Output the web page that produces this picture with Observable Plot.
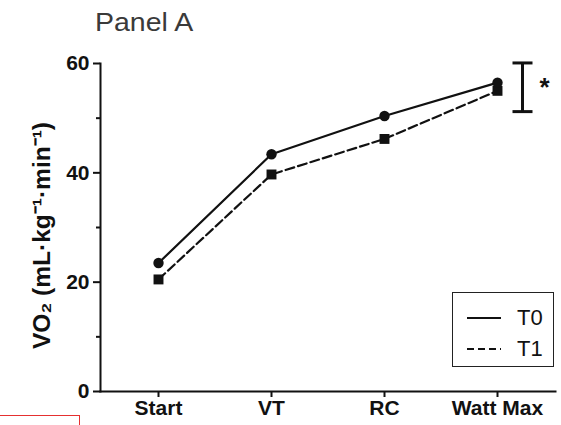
<!DOCTYPE html>
<html>
<head>
<meta charset="utf-8">
<script src="https://cdn.jsdelivr.net/npm/d3@7"></script>
<script src="https://cdn.jsdelivr.net/npm/@observablehq/plot@0.6"></script>
<style>
  html, body { margin: 0; padding: 0; background: #fff; }
  #wrap { position: relative; width: 561px; height: 425px; overflow: hidden; font-family: "Liberation Sans", Arial, sans-serif; }
  #title { position: absolute; left: 95px; top: 8px; font-size: 25px; color: #3a3a3a; white-space: nowrap; transform: scaleX(1.14); transform-origin: left top; }
  #legend { position: absolute; left: 452px; top: 292px; width: 102px; height: 75px; border: 1.5px solid #222; box-sizing: border-box; }
  #legend .row { position: absolute; left: 0; height: 24px; width: 100%; }
  #legend svg { position: absolute; left: 13px; top: 0; }
  #legend span { position: absolute; left: 64px; top: 0; font-size: 22px; color: #111; line-height: 24px; }
  #redbox { position: absolute; left: -2px; top: 415px; width: 80px; height: 30px; border: 1px solid #e53030; }
  #chart { position: absolute; left: 0; top: 0; }
</style>
</head>
<body>
<div id="wrap">
  <div id="chart"></div>
  <div id="title">Panel A</div>
  <div id="legend"></div>
  <div id="redbox"></div>
</div>
<script>
const categories = ["Start", "VT", "RC", "Watt Max"];
const t0Values = [23.5, 43.4, 50.4, 56.5];
const t1Values = [20.5, 39.7, 46.2, 55.0];
const seriesNames = ["T0", "T1"];
const yMajorTicks = [0, 20, 40, 60];
const yMinorTicks = [10, 30, 50];
const sigRange = [51.2, 60.1];
const sigCategory = "Watt Max";
const sigLabel = "*";

const rows = [];
categories.forEach((c, i) => {
  rows.push({cat: c, v: t0Values[i], s: seriesNames[0]});
  rows.push({cat: c, v: t1Values[i], s: seriesNames[1]});
});
const t0 = rows.filter(d => d.s === "T0");
const t1 = rows.filter(d => d.s === "T1");
const sig = [{cat: sigCategory, lo: sigRange[0], hi: sigRange[1], mid: (sigRange[0] + sigRange[1]) / 2}];
const caps = sigRange.map(v => ({cat: sigCategory, v}));

const font = "Liberation Sans, Arial, sans-serif";
const plot = Plot.plot({
  width: 561,
  height: 425,
  marginLeft: 100,
  marginRight: 6,
  marginTop: 63,
  marginBottom: 34,
  style: {fontFamily: font, background: "transparent", color: "#111", overflow: "visible"},
  x: {type: "point", domain: categories, padding: 0.5},
  y: {domain: [0, 60]},
  marks: [
    Plot.axisY({ticks: yMajorTicks, tickSize: 7, tickPadding: 4, fontSize: 21, fontWeight: "bold", strokeWidth: 2, label: null}),
    Plot.axisY({ticks: yMinorTicks, tickSize: 4, text: null, strokeWidth: 2, label: null}),
    Plot.axisX({tickSize: 6, tickPadding: 3, fontSize: 21, fontWeight: "bold", strokeWidth: 2, label: null}),
    Plot.frame({anchor: "left", strokeWidth: 2, stroke: "#111"}),
    Plot.frame({anchor: "bottom", strokeWidth: 2, stroke: "#111"}),
    Plot.text(["VO₂ (mL·kg⁻¹·min⁻¹)"], {frameAnchor: "left", textAnchor: "middle", dx: -58, dy: 8, rotate: -90, fontSize: 24.5, fontWeight: "bold", fill: "#111"}),
    Plot.line(t1, {x: "cat", y: "v", stroke: "#111", strokeWidth: 2.2, strokeDasharray: "9,4"}),
    Plot.line(t0, {x: "cat", y: "v", stroke: "#111", strokeWidth: 2.2}),
    Plot.dot(t1, {x: "cat", y: "v", symbol: "square", r: 5.6, fill: "#111", stroke: null}),
    Plot.dot(t0, {x: "cat", y: "v", symbol: "circle", r: 5.2, fill: "#111", stroke: null}),
    Plot.ruleX(sig, {x: "cat", y1: "lo", y2: "hi", dx: 25, stroke: "#111", strokeWidth: 3}),
    Plot.link(caps, {x1: "cat", x2: "cat", y1: "v", y2: "v", dx: 25, stroke: "#111", strokeWidth: 3,
      render(index, scales, values, dims, context, next) {
        const g = next(index, scales, values, dims, context);
        d3.select(g).selectAll("path").attr("d", function() {
          const i = d3.select(this).datum();
          const x = values.x1[i], y = values.y1[i];
          return `M${x - 10},${y}L${x + 10},${y}`;
        });
        return g;
      }}),
    Plot.text(sig, {x: "cat", y: "mid", text: () => sigLabel, dx: 47, dy: 0, fontSize: 26, fontWeight: "bold", fill: "#111"})
  ]
});
document.getElementById("chart").appendChild(plot);

// legend
const leg = document.getElementById("legend");
seriesNames.forEach((name, i) => {
  const row = document.createElement("div");
  row.className = "row";
  row.style.top = (13 + i * 31) + "px";
  row.innerHTML = `<svg width="36" height="24"><line x1="1" x2="35" y1="12" y2="12" stroke="#111" stroke-width="2" ${i === 1 ? 'stroke-dasharray="7,4"' : ''}/></svg><span>${name}</span>`;
  leg.appendChild(row);
});
</script>
</body>
</html>
